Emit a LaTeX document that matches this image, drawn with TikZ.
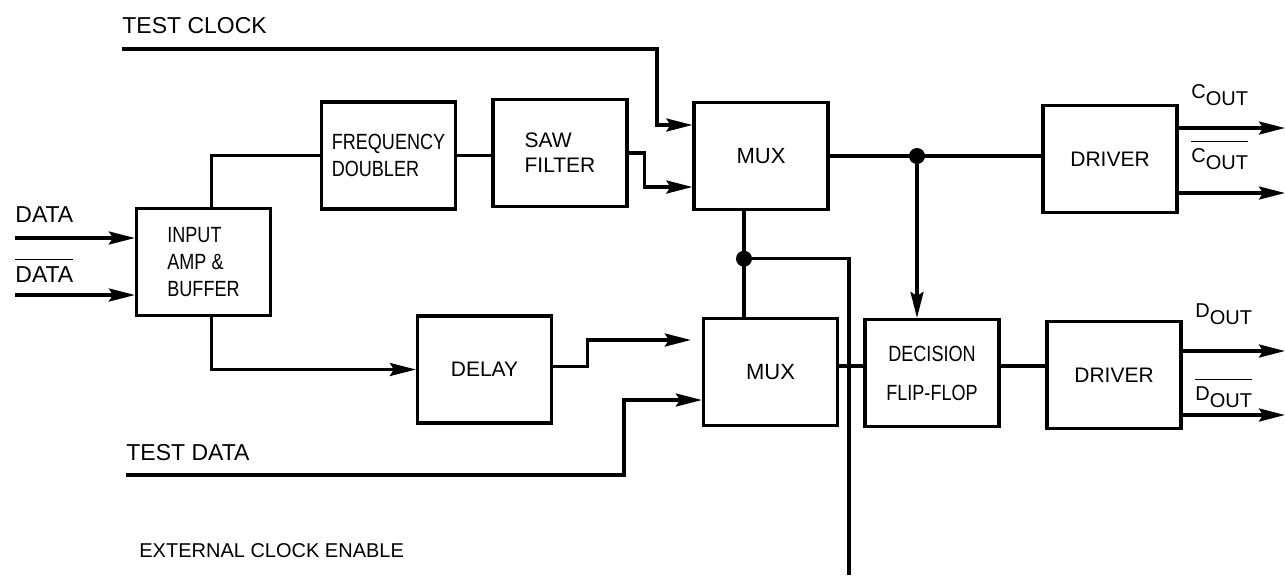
\documentclass[tikz,border=0pt]{standalone}
\usepackage{fontspec}
\setmainfont{Liberation Sans}
\newfontfamily\narrowfont{Liberation Sans}[FakeStretch=0.82]
\usetikzlibrary{arrows.meta, calc}
\newcommand{\outsub}[1]{#1\raisebox{-3.5pt}{OUT}}
\newcommand{\barred}[1]{\vbox{\hrule height 0.5pt\kern 3pt\hbox{#1}}}
\tikzset{
    block/.style={rectangle, draw, line width=1.6pt, minimum width=67pt, minimum height=53.5pt, inner sep=0pt, font=\fontsize{10.5}{12.5}\selectfont},
    narrowblock/.style={block, font=\narrowfont\fontsize{11}{13.5}\selectfont, align=left},
    wire/.style={draw, line width=1.6pt},
    sig/.style={wire, -{Stealth[length=13pt, width=6.5pt, inset=2pt]}},
    sigtext/.style={anchor=base west, inner sep=0pt, font=\fontsize{11.5}{13}\selectfont},
    outtext/.style={anchor=base west, inner sep=0pt, font=\fontsize{10}{12}\selectfont},
    junction/.style={circle, fill, inner sep=0pt, minimum size=8pt}
}

\begin{document}
\begin{tikzpicture}[x=0.5pt, y=-0.5pt]
    \useasboundingbox (0,0) rectangle (1285,575);

    % Blocks
    \node[narrowblock] (inamp) at (203.5,262) {INPUT\\AMP \&\\BUFFER};
    \node[narrowblock] (doubler) at (388.5,155.5) {FREQUENCY\\DOUBLER};
    \node[block, align=left] (saw) at (560,153) {SAW\\FILTER};
    \node[block, font=\fontsize{11}{13}\selectfont] (muxc) at (761,156) {MUX};
    \node[block, font=\fontsize{11}{13}\selectfont] (muxd) at (770.5,372) {MUX};
    \node[block] (delay) at (484.5,369.5) {DELAY};
    \node[block] (drvc) at (1110,159) {DRIVER};
    \node[narrowblock, align=center] (ff) at (932,373) {DECISION\\[6pt]FLIP-FLOP};
    \node[block] (drvd) at (1114,375) {DRIVER};

    % Signal labels
    \node[sigtext] (tclklbl) at (122,33) {TEST CLOCK};
    \node[sigtext] (dinlbl) at (15,222) {DATA};
    \node[sigtext] (dinblbl) at (15,282) {\barred{DATA}};
    \node[sigtext] (tdatlbl) at (126,460) {TEST DATA};
    \node[sigtext, font=\fontsize{10}{12}\selectfont] (extlbl) at (139,557) {EXTERNAL CLOCK ENABLE};
    \node[outtext] (coutlbl) at (1191,98) {\outsub{C}};
    \node[outtext] (coutblbl) at (1191,162) {\barred{\outsub{C}}};
    \node[outtext] (doutlbl) at (1195,317) {\outsub{D}};
    \node[outtext] (doutblbl) at (1195,400) {\barred{\outsub{D}}};

    % Free ends
    \coordinate (tclk) at (122,49);
    \coordinate (tdat) at (126,475);
    \coordinate (din) at (15,238);
    \coordinate (dinb) at (15,295);
    \coordinate (extclk) at (849,575);
    \coordinate (cout) at (1285,128);
    \coordinate (coutb) at (1285,193);
    \coordinate (dout) at (1285,351);
    \coordinate (doutb) at (1285,415);
    \coordinate (ffin) at ([xshift=-7.5pt]ff.north);
    \coordinate (mtop) at ([xshift=-8.5pt]muxc.south);

    % Inputs
    \draw[sig] (din) -- (din -| inamp.west);
    \draw[sig] (dinb) -- (dinb -| inamp.west);
    \draw[wire] ([xshift=4pt]inamp.north) |- (doubler.west);
    \draw[sig] ([xshift=4pt]inamp.south) |- (delay.west);
    \draw[wire] (doubler.east) -- (doubler.east -| saw.west);

    % Clock path
    \draw[sig] (tclk) -- ++(535,0) |- ([yshift=15.5pt]muxc.west);
    \draw[sig] (saw.east) -- ++(16,0) |- ([yshift=-15.5pt]muxc.west);
    \node[junction] (jc) at (muxc.east -| ffin) {};
    \draw[wire] (muxc.east) -- (muxc.east -| drvc.west);
    \draw[sig] (jc) -- (ffin);

    % Data path
    \draw[sig] ([yshift=1.5pt]delay.east) -- ++(34,0) |- ([xshift=-5.5pt, yshift=16pt]muxd.west);
    \draw[sig] (tdat) -- ++(498,0) |- ([yshift=-14pt]muxd.west);
    \draw[wire] ([yshift=3pt]muxd.east) -- ([yshift=3pt]muxd.east -| ff.west);
    \draw[wire] ([yshift=3.5pt]ff.east) -- ([yshift=3.5pt]ff.east -| drvd.west);

    % Mux select
    \draw[wire] (mtop) -- (mtop |- muxd.north);
    \node[junction] (jd) at ($(mtop)!0.45!(mtop |- muxd.north)$) {};
    \draw[wire] (jd) -| (extclk);

    % Outputs
    \draw[sig] (drvc.east |- cout) -- (cout);
    \draw[sig] (drvc.east |- coutb) -- (coutb);
    \draw[sig] (drvd.east |- dout) -- (dout);
    \draw[sig] (drvd.east |- doutb) -- (doutb);
\end{tikzpicture}
\end{document}
